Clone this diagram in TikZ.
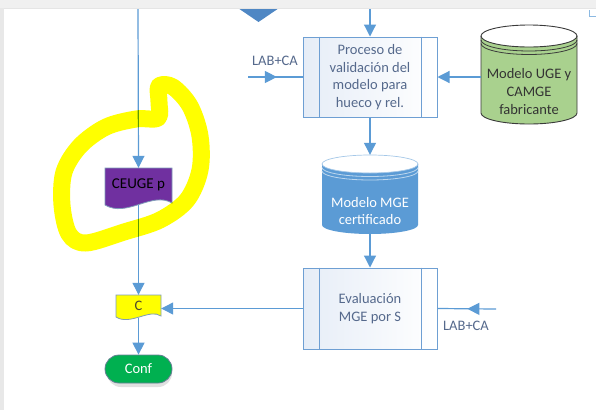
\documentclass[tikz,border=0pt]{standalone}
\usepackage{fontspec}
\setmainfont{Carlito}
\usetikzlibrary{arrows.meta,decorations.markings,calc}
\definecolor{ln}{HTML}{5B9BD5}
\definecolor{pb}{HTML}{6E9FD3}
\definecolor{pfill}{HTML}{E6EDF7}
\definecolor{ptext}{HTML}{55698C}
\definecolor{gfill}{HTML}{A9D18E}
\definecolor{gline}{HTML}{3A3A3A}
\definecolor{bfill}{HTML}{5B9BD5}
\definecolor{dfill}{HTML}{4F87C4}
\definecolor{purp}{HTML}{7030A0}
\definecolor{docline}{HTML}{7F9DB9}
\definecolor{confg}{HTML}{00B050}
\definecolor{hl}{HTML}{FFFF00}
\tikzset{
  conn/.style={draw=ln, line width=1.2pt, -{Triangle[length=12pt,width=12pt]}},
  midarrow/.style={draw=ln, line width=1.2pt, postaction={decorate},
    decoration={markings, mark=at position #1 with {\arrow{Triangle[length=12pt,width=12pt]}}}},
  procbox/.style={draw=pb, line width=1pt, left color=pfill, right color=white,
    minimum width=134pt, minimum height=80pt, text=ptext, align=center,
    font=\fontsize{14.5}{17.7}\selectfont, inner sep=0pt},
  bounds/.style={draw=none, inner sep=0pt},
  txt/.style={align=center, inner sep=0pt, font=\fontsize{14.5}{17.7}\selectfont},
}
\begin{document}
\begin{tikzpicture}[x=1pt,y=-1pt]
\useasboundingbox (0,0) rectangle (596,410);
\fill[white] (0,0) rectangle (596,410);

% partial diamond at top
\fill[dfill] (235,6) -- (258.5,22) -- (282,6) -- cycle;

% entry coordinates
\coordinate (topA) at (138,8);
\coordinate (topB) at (370,8);
\coordinate (lab1s) at (248,77);
\coordinate (lab2s) at (496,309);

% process boxes
\node[procbox] (p1) at (370,77) {Proceso de\\validación del\\modelo para\\hueco y rel.};
\draw[pb, line width=1pt] ([xshift=17pt]p1.north west) -- ([xshift=17pt]p1.south west);
\draw[pb, line width=1pt] ([xshift=-16pt]p1.north east) -- ([xshift=-16pt]p1.south east);

\node[procbox, minimum height=81pt] (p2) at (370,308.5) {Evaluación\\MGE por S};
\draw[pb, line width=1pt] ([xshift=17pt]p2.north west) -- ([xshift=17pt]p2.south west);
\draw[pb, line width=1pt] ([xshift=-16pt]p2.north east) -- ([xshift=-16pt]p2.south east);

% green cylinder
\node[bounds, minimum width=96pt, minimum height=99pt] (gcyl) at (529,74.5) {};
\fill[gfill] (481,36) -- (481,113) arc[start angle=180,end angle=0,x radius=48,y radius=11]
  -- (577,36) arc[start angle=0,end angle=180,x radius=48,y radius=11] -- cycle;
\draw[gline, line width=0.9pt] (481,36) -- (481,113) arc[start angle=180,end angle=0,x radius=48,y radius=11] -- (577,36);
\draw[gline, line width=0.9pt] (529,36) ellipse[x radius=48, y radius=11];
\draw[gline, line width=0.8pt] (481,40) arc[start angle=180,end angle=0,x radius=48,y radius=11];
\draw[gline, line width=0.8pt] (481,43.5) arc[start angle=180,end angle=0,x radius=48,y radius=11];
\node[txt, text=black!80] (gcylt) at (529,91.5) {Modelo UGE y\\CAMGE\\fabricante};

% blue cylinder
\node[bounds, minimum width=96pt, minimum height=79pt] (bcyl) at (370,194.5) {};
\fill[bfill] (322,164) -- (322,225) arc[start angle=180,end angle=0,x radius=48,y radius=9]
  -- (418,164) arc[start angle=0,end angle=180,x radius=48,y radius=9] -- cycle;
\draw[white!45!bfill, line width=0.7pt] (370,164) ellipse[x radius=48, y radius=9];
\draw[white!60!bfill, line width=0.8pt] (322,167.5) arc[start angle=180,end angle=0,x radius=48,y radius=9];
\draw[white!60!bfill, line width=0.8pt] (322,171) arc[start angle=180,end angle=0,x radius=48,y radius=9];
\node[txt, text=white] (bcylt) at (370,211) {Modelo MGE\\certificado};

% CEUGE p document
\node[bounds, minimum width=67pt, minimum height=37pt] (ceuge) at (138.5,186.5) {};
\filldraw[fill=purp, draw=docline, line width=0.8pt] (105,168) -- (172,168) -- (172,203)
  .. controls (152,191) and (127,218) .. (105,205) -- cycle;
\node[txt, font=\fontsize{15}{17}\selectfont, text=black] (ceuget) at (138.5,185) {CEUGE p};

% C document
\node[bounds, minimum width=45pt, minimum height=23pt] (cdoc) at (138.5,306.5) {};
\filldraw[fill=hl, draw=docline, line width=0.8pt] (116,295) -- (161,295) -- (161,316)
  .. controls (150,308) and (130,326) .. (116,317) -- cycle;
\node[txt, text=black!60!olive] (cdoct) at (138.5,305.5) {C};

% Conf terminator
\fill[black!12, rounded corners=14pt] (107,359) rectangle (172,387);
\node[draw=docline!80!black, line width=0.8pt, fill=confg, rounded corners=14pt,
  minimum width=67pt, minimum height=28pt, inner sep=0pt, text=white,
  font=\fontsize{14.5}{17}\selectfont] (conf) at (138.5,369) {Conf};

% connectors
\draw[conn] (topB) -- (p1.north);
\draw[midarrow=0.53] (lab1s) -- (p1.west);
\draw[conn] (gcyl.west |- p1.east) -- (p1.east);
\draw[conn] (p1.south) -- (bcyl.north);
\draw[conn] (bcyl.south) -- (p2.north);
\draw[midarrow=0.49] (lab2s) -- (p2.east);
\draw[conn] (p2.west) -- (p2.west -| cdoc.east);
\draw[conn] (topA) -- (ceuge.north);
\draw[conn] (ceuge.south) -- (cdoc.north);
\draw[conn] (cdoc.south) -- (conf.north);

% labels
\node[txt, text=ptext] (lab1) at (275,61) {LAB+CA};
\node[txt, text=ptext] (lab2) at (466,326) {LAB+CA};

% highlight scribble
\begin{scope}[blend mode=multiply]
\draw[hl, line width=17pt, line cap=round, line join=round]
  plot[smooth cycle, tension=0.55] coordinates {
  (159,86) (173,87) (190,106) (200,136) (200,170) (187,200) (160,220)
  (124,232) (86,243) (69,234) (62,205) (64,172) (80,146) (106,127)
  (136,119) (158,118) (159,102)};
\end{scope}

% window frame
\fill[black!6] (0,0) rectangle (596,8);
\draw[black!10, line width=0.6pt] (0,8) -- (596,8);
\fill[black!9] (0,8) rectangle (4,410);
\draw[ln!70, line width=1pt] (589,10) -- (589,16) -- (596,16);
\end{tikzpicture}
\end{document}
